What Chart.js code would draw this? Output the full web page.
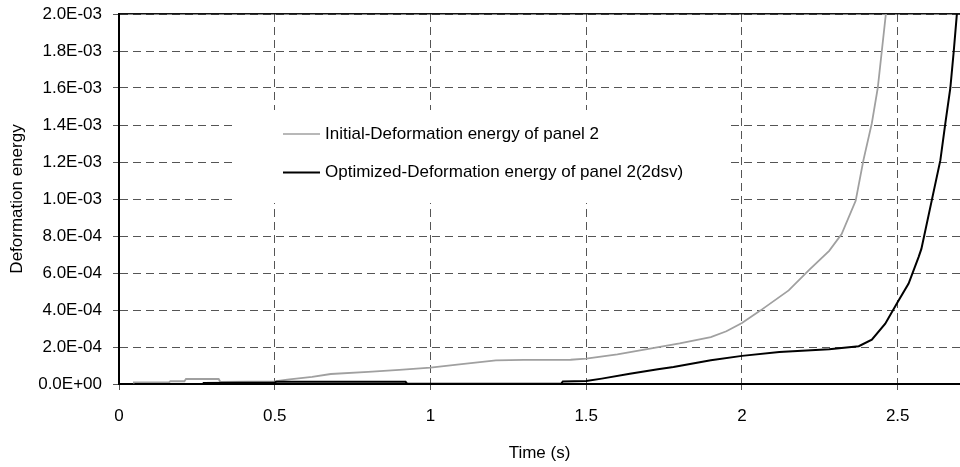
<!DOCTYPE html>
<html>
<head>
<meta charset="utf-8">
<script src="https://cdn.jsdelivr.net/npm/chart.js@4"></script>
<style>
  body { margin: 0; background: #fff; }
  #wrap { width: 960px; height: 467px; }
</style>
</head>
<body>
<div id="wrap"><canvas id="energyChart" width="960" height="467"></canvas></div>
<script>
// values
const initialLabel = 'Initial-Deformation energy of panel 2';
const optimizedLabel = 'Optimized-Deformation energy of panel 2(2dsv)';

const initialTime = [0.045, 0.16, 0.165, 0.21, 0.215, 0.32, 0.325, 0.5, 0.54, 0.62, 0.68, 0.8, 0.9, 1.0,
  1.1, 1.21, 1.3, 1.45, 1.5, 1.6, 1.7, 1.8, 1.9, 1.95, 2.0, 2.06, 2.15, 2.215, 2.28, 2.32, 2.365,
  2.39, 2.417, 2.436, 2.449, 2.462, 2.47];
const initialEnergy = [0.8e-5, 0.8e-5, 1.5e-5, 1.5e-5, 2.7e-5, 2.7e-5, 1.2e-5, 1.4e-5, 2.4e-5, 3.8e-5, 5.4e-5, 6.6e-5, 7.6e-5, 8.9e-5,
  1.08e-4, 1.28e-4, 1.3e-4, 1.31e-4, 1.37e-4, 1.6e-4, 1.9e-4, 2.2e-4, 2.54e-4, 2.85e-4, 3.3e-4, 3.98e-4, 5.06e-4, 6.15e-4, 7.2e-4, 8.1e-4, 9.9e-4,
  1.21e-3, 1.41e-3, 1.6e-3, 1.8e-3, 2.0e-3, 2.1e-3];

const optimizedTime = [0.05, 0.27, 0.272, 0.5, 0.505, 0.92, 0.925, 1.42, 1.425, 1.5, 1.55, 1.64, 1.73, 1.78,
  1.9, 2.0, 2.12, 2.28, 2.375, 2.417, 2.46, 2.5, 2.535, 2.567, 2.576, 2.609, 2.637, 2.653, 2.669,
  2.68, 2.689, 2.695];
const optimizedEnergy = [0, 0, 6e-6, 8e-6, 1.2e-5, 1.2e-5, 2e-6, 2e-6, 1.4e-5, 1.6e-5, 2.9e-5, 5.5e-5, 8.0e-5, 9.2e-5,
  1.28e-4, 1.52e-4, 1.73e-4, 1.88e-4, 2.04e-4, 2.4e-4, 3.26e-4, 4.43e-4, 5.43e-4, 6.86e-4, 7.3e-4, 9.9e-4, 1.21e-3, 1.41e-3, 1.6e-3,
  1.8e-3, 1.98e-3, 2.1e-3];

const xMin = 0, xMax = 2.7, xStep = 0.5;
const yMin = 0, yMax = 0.002, yStep = 0.0002;

const FONT = "'Liberation Sans', Arial, sans-serif";

function sciLabel(v) {
  const parts = Number(v).toExponential(1).split('e');
  const n = parseInt(parts[1], 10);
  return parts[0] + 'E' + (n < 0 ? '-' : '+') + String(Math.abs(n)).padStart(2, '0');
}

// legend drawn as a white box inside the plot, like the original
const boxLegend = {
  id: 'boxLegend',
  beforeDatasetsDraw(chart) {
    const { ctx, chartArea } = chart;
    const left = chartArea.left, top = chartArea.top;
    ctx.save();
    ctx.fillStyle = '#fff';
    ctx.fillRect(left + 116, top + 96, 491, 93);
    const rows = [
      { ds: chart.data.datasets[0], y: top + 120 },
      { ds: chart.data.datasets[1], y: top + 158.5 }
    ];
    ctx.font = '17px ' + FONT;
    ctx.textBaseline = 'middle';
    ctx.textAlign = 'left';
    rows.forEach(r => {
      ctx.strokeStyle = r.ds.borderColor;
      ctx.lineWidth = r.ds.borderWidth === 2 ? 2 : 1.4;
      ctx.beginPath();
      ctx.moveTo(left + 164, r.y);
      ctx.lineTo(left + 201, r.y);
      ctx.stroke();
      ctx.fillStyle = '#000';
      ctx.fillText(r.ds.label, left + 206, r.y);
    });
    ctx.restore();
  }
};

const ctx = document.getElementById('energyChart');
new Chart(ctx, {
  type: 'line',
  data: {
    datasets: [
      {
        label: initialLabel,
        data: initialTime.map((t, i) => ({ x: t, y: initialEnergy[i] })),
        borderColor: '#a0a0a0',
        borderWidth: 1.8,
        pointRadius: 0,
        tension: 0,
        order: 1
      },
      {
        label: optimizedLabel,
        data: optimizedTime.map((t, i) => ({ x: t, y: optimizedEnergy[i] })),
        borderColor: '#000',
        borderWidth: 2,
        pointRadius: 0,
        tension: 0,
        order: 0
      }
    ]
  },
  options: {
    responsive: false,
    animation: false,
    layout: { padding: { top: 14, left: 0, right: 0, bottom: 0 } },
    plugins: {
      legend: { display: false },
      tooltip: { enabled: false }
    },
    scales: {
      x: {
        type: 'linear',
        position: 'bottom',
        min: xMin,
        max: xMax,
        afterFit: scale => {
          scale.height = 83;
          scale.paddingLeft = 0;
          scale.paddingRight = 0;
        },
        ticks: {
          stepSize: xStep,
          includeBounds: false,
          padding: 16,
          color: '#000',
          font: { family: FONT, size: 17 },
          callback: v => String(+Number(v).toFixed(2))
        },
        grid: {
          color: '#555',
          lineWidth: 1,
          tickLength: 6,
          tickBorderDash: []
        },
        border: { display: true, color: '#000', width: 2, dash: [8, 5] },
        title: {
          display: true,
          text: 'Time (s)',
          color: '#000',
          font: { family: FONT, size: 17 },
          padding: { top: 4, bottom: 3 }
        }
      },
      x2: {
        type: 'linear',
        position: 'top',
        min: xMin,
        max: xMax,
        afterFit: scale => { scale.height = 0; },
        ticks: { display: false },
        grid: { display: false, drawTicks: false },
        border: { display: true, color: '#111', width: 1.5 }
      },
      y: {
        type: 'linear',
        min: yMin,
        max: yMax,
        afterFit: scale => {
          scale.width = 119;
          scale.paddingTop = 0;
          scale.paddingBottom = 0;
        },
        ticks: {
          stepSize: yStep,
          padding: 11,
          color: '#000',
          font: { family: FONT, size: 17 },
          callback: v => sciLabel(v)
        },
        grid: {
          color: '#555',
          lineWidth: 1,
          tickLength: 6,
          tickBorderDash: []
        },
        border: { display: true, color: '#000', width: 2, dash: [8, 5] },
        title: {
          display: true,
          text: 'Deformation energy',
          color: '#000',
          font: { family: FONT, size: 17 },
          padding: { top: 7, bottom: 4 }
        }
      }
    }
  },
  plugins: [boxLegend]
});
</script>
</body>
</html>
